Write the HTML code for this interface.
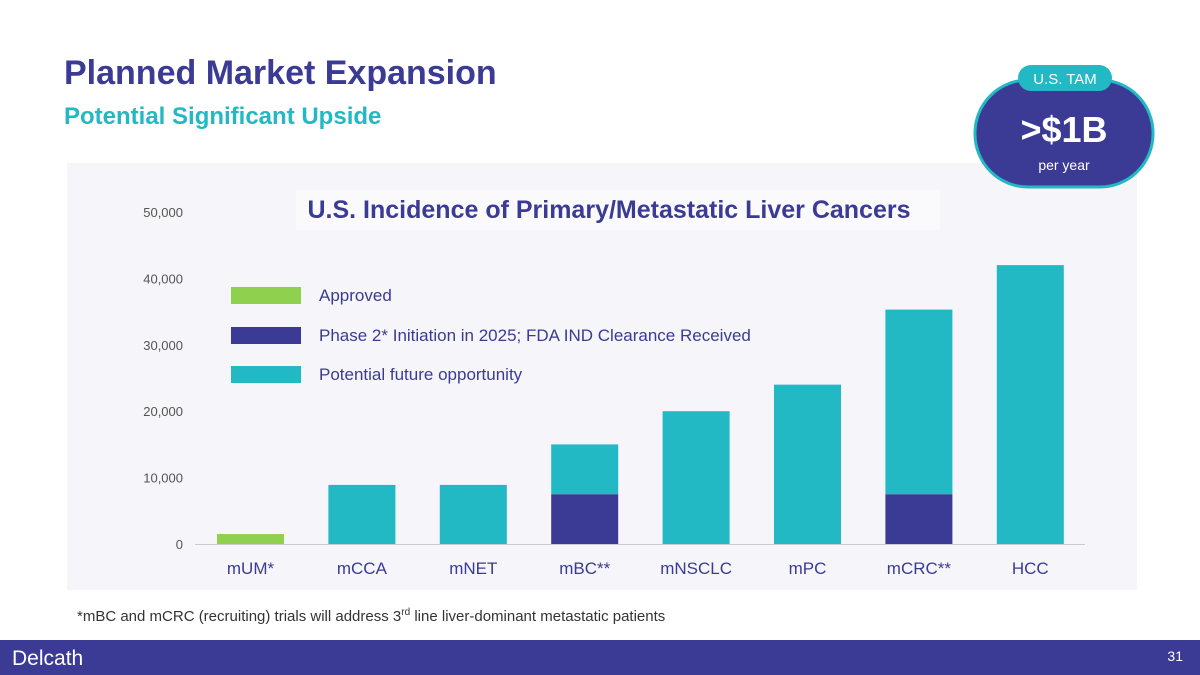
<!DOCTYPE html>
<html><head><meta charset="utf-8"><style>
body{margin:0;width:1200px;height:675px;position:relative;overflow:hidden;background:#fff;font-family:"Liberation Sans",sans-serif}
</style></head><body>
<svg width="1200" height="675" viewBox="0 0 1200 675" style="position:absolute;left:0;top:0" font-family="Liberation Sans, sans-serif">
<text x="64" y="84" font-size="34" font-weight="bold" fill="#3b3b95">Planned Market Expansion</text>
<text x="64" y="124" font-size="24" font-weight="bold" fill="#22b8c4">Potential Significant Upside</text>
<rect x="67" y="163" width="1070" height="427" fill="#f5f5fa"/>
<g>
<rect x="975" y="80" width="178" height="107" rx="53" fill="#3b3b95" stroke="#22b8c4" stroke-width="3"/>
<rect x="1018" y="65" width="94" height="26" rx="13" fill="#22b8c4"/>
<text x="1065" y="84" text-anchor="middle" font-size="15" fill="#fff">U.S. TAM</text>
<text x="1064" y="142" text-anchor="middle" font-size="36" font-weight="bold" fill="#fff">&gt;$1B</text>
<text x="1064" y="170" text-anchor="middle" font-size="14" fill="#fff">per year</text>
</g>
<rect x="296" y="190" width="644" height="40" fill="#fafafc"/>
<text x="609" y="218" text-anchor="middle" font-size="25" font-weight="bold" fill="#3b3b95">U.S. Incidence of Primary/Metastatic Liver Cancers</text>
<g id="axis"></g>
<g id="bars"></g>
<g>
<rect x="231" y="287" width="70" height="17" fill="#8fd14f"/><text x="319" y="301" font-size="17" fill="#3b3b95">Approved</text>
<rect x="231" y="327" width="70" height="17" fill="#3b3b95"/><text x="319" y="341" font-size="17" fill="#3b3b95">Phase 2* Initiation in 2025; FDA IND Clearance Received</text>
<rect x="231" y="366" width="70" height="17" fill="#22b8c4"/><text x="319" y="380" font-size="17" fill="#3b3b95">Potential future opportunity</text>
</g>
<text x="77" y="621" font-size="15" fill="#333">*mBC and mCRC (recruiting) trials will address 3<tspan font-size="10" dy="-6">rd</tspan><tspan dy="6"> line liver-dominant metastatic patients</tspan></text>
<rect x="0" y="640" width="1200" height="35" fill="#3b3b95"/>
<text x="12" y="665" font-size="21" fill="#fff">Delcath</text>
<text x="1183" y="661" text-anchor="end" font-size="14" fill="#fff">31</text>
</svg>
<script>
const categories=["mUM*","mCCA","mNET","mBC**","mNSCLC","mPC","mCRC**","HCC"];
const approved=[1500,0,0,0,0,0,0,0];
const phase2=[0,0,0,7500,0,0,7500,0];
const future=[0,8900,8900,7500,20000,24000,27800,42000];
const ticks=[0,10000,20000,30000,40000,50000];
const NS="http://www.w3.org/2000/svg";
const y=v=>544-v*0.00664;
const xc=i=>250.5+i*111.4;
const ax=document.getElementById('axis'),bg=document.getElementById('bars');
function mk(tag,attrs,parent){const e=document.createElementNS(NS,tag);for(const k in attrs)e.setAttribute(k,attrs[k]);parent.appendChild(e);return e;}
ticks.forEach(t=>{const e=mk('text',{x:183,y:y(t)+5,'text-anchor':'end','font-size':13,fill:'#555'},ax);e.textContent=t.toLocaleString('en-US');

});
const base=mk('line',{x1:195,x2:1085,y1:544.5,y2:544.5,stroke:'#ccc'},ax);


categories.forEach((c,i)=>{let acc=0;
[[approved,'#8fd14f'],[phase2,'#3b3b95'],[future,'#22b8c4']].forEach(([arr,col])=>{const v=arr[i];if(!v)return;
const r=mk('rect',{x:xc(i)-33.5,width:67,y:y(acc+v),height:y(acc)-y(acc+v),fill:col},bg);


acc+=v;});
const l=mk('text',{x:xc(i),y:574,'text-anchor':'middle','font-size':17,fill:'#3b3b95'},ax);l.textContent=c;

});
</script>
</body></html>
